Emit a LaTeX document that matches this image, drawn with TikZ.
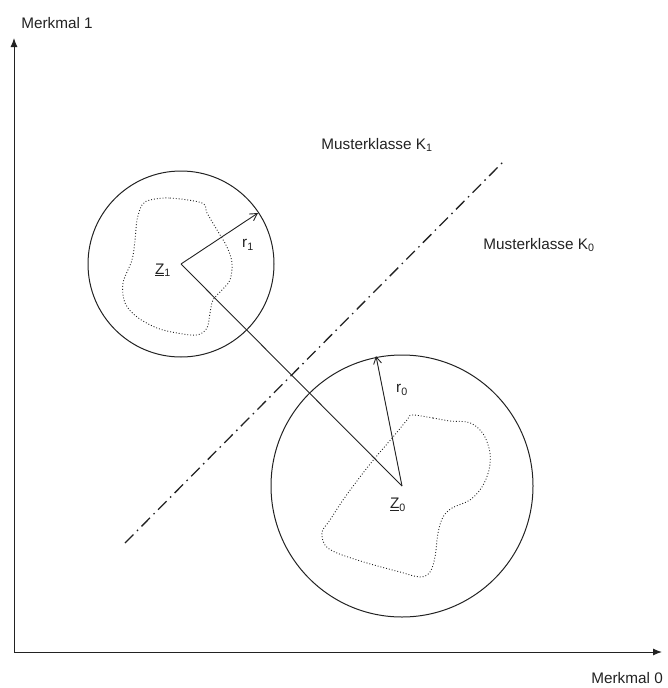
\documentclass[tikz,border=0pt]{standalone}
\usepackage{fontspec}
\setmainfont{Liberation Sans}
\usetikzlibrary{arrows.meta}
\definecolor{strich}{HTML}{222222}
\tikzset{
  achse/.style={strich,line width=1pt,-{Latex[length=9pt,width=7pt]}},
  klasse/.style={strich,line width=1pt},
  muster/.style={strich,line width=0.9pt,dotted},
  radpfeil/.style={strich,line width=0.9pt,-{Straight Barb[length=7pt,width=8pt]}},
  trenn/.style={strich,line width=1.3pt,dash pattern=on 12pt off 5pt on 1.5pt off 5pt},
  beschr/.style={inner sep=0pt,font=\fontsize{15.3}{18}\selectfont,text=strich}
}

\begin{document}
\begin{tikzpicture}[x=1pt,y=-1pt]
  \useasboundingbox (0,0) rectangle (667,688);

  % Achsen
  \coordinate (o) at (14,652);
  \coordinate (yend) at (14,38);
  \coordinate (xend) at (662,652);
  \draw[achse] (o) -- (yend);
  \draw[achse] (o) -- (xend);
  \node[beschr] (m1) at (57,23) {Merkmal 1};
  \node[beschr,anchor=east] (m0) at (663,678) {Merkmal 0};

  % Trennlinie
  \coordinate (t0) at (125,543);
  \coordinate (t1) at (504,161);
  \draw[trenn] (t0) -- (t1);
  \node[beschr] (k1) at (377,145) {Musterklasse K\textsubscript{1}};
  \node[beschr] (k0) at (539,245) {Musterklasse K\textsubscript{0}};

  % Klasse 1
  \coordinate (z1) at (181,264);
  \draw[klasse] (z1) circle[radius=93pt];
  \draw[muster] plot[smooth cycle,tension=0.55] coordinates {
    (150,200) (170,198) (202,203) (207,213) (217,230) (227,247) (232,263)
    (230,280) (222,290) (213,300) (210,313) (207,328) (197,335) (177,333)
    (157,328) (137,317) (125,303) (123,283) (132,260) (135,240) (137,220)
    (142,205)};
  \coordinate (r1end) at (258,213);
  \draw[radpfeil] (z1) -- (r1end);
  \node[beschr] (r1) at (248,245) {r\textsubscript{1}};
  \node[beschr] (z1lbl) at (163,270) {\underline{Z}\textsubscript{1}};

  % Klasse 0
  \coordinate (z0) at (402,486);
  \draw[klasse] (z0) circle[radius=131pt];
  \draw[muster] plot[smooth cycle,tension=0.55] coordinates {
    (412,415) (433,418) (450,421) (467,422) (477,427) (485,437) (490,453)
    (489,470) (482,487) (470,500) (452,508) (443,517) (438,533) (435,557)
    (430,572) (420,577) (400,572) (367,563) (337,553) (325,545) (322,532)
    (330,520) (343,500) (360,477) (375,458) (393,437) (407,420)};
  \coordinate (r0end) at (376,356);
  \draw[radpfeil] (z0) -- (r0end);
  \node[beschr] (r0) at (402,390) {r\textsubscript{0}};
  \node[beschr] (z0lbl) at (398,505) {\underline{Z}\textsubscript{0}};

  % Abstand
  \draw[klasse,line width=0.9pt] (z1) -- (z0);
\end{tikzpicture}
\end{document}
